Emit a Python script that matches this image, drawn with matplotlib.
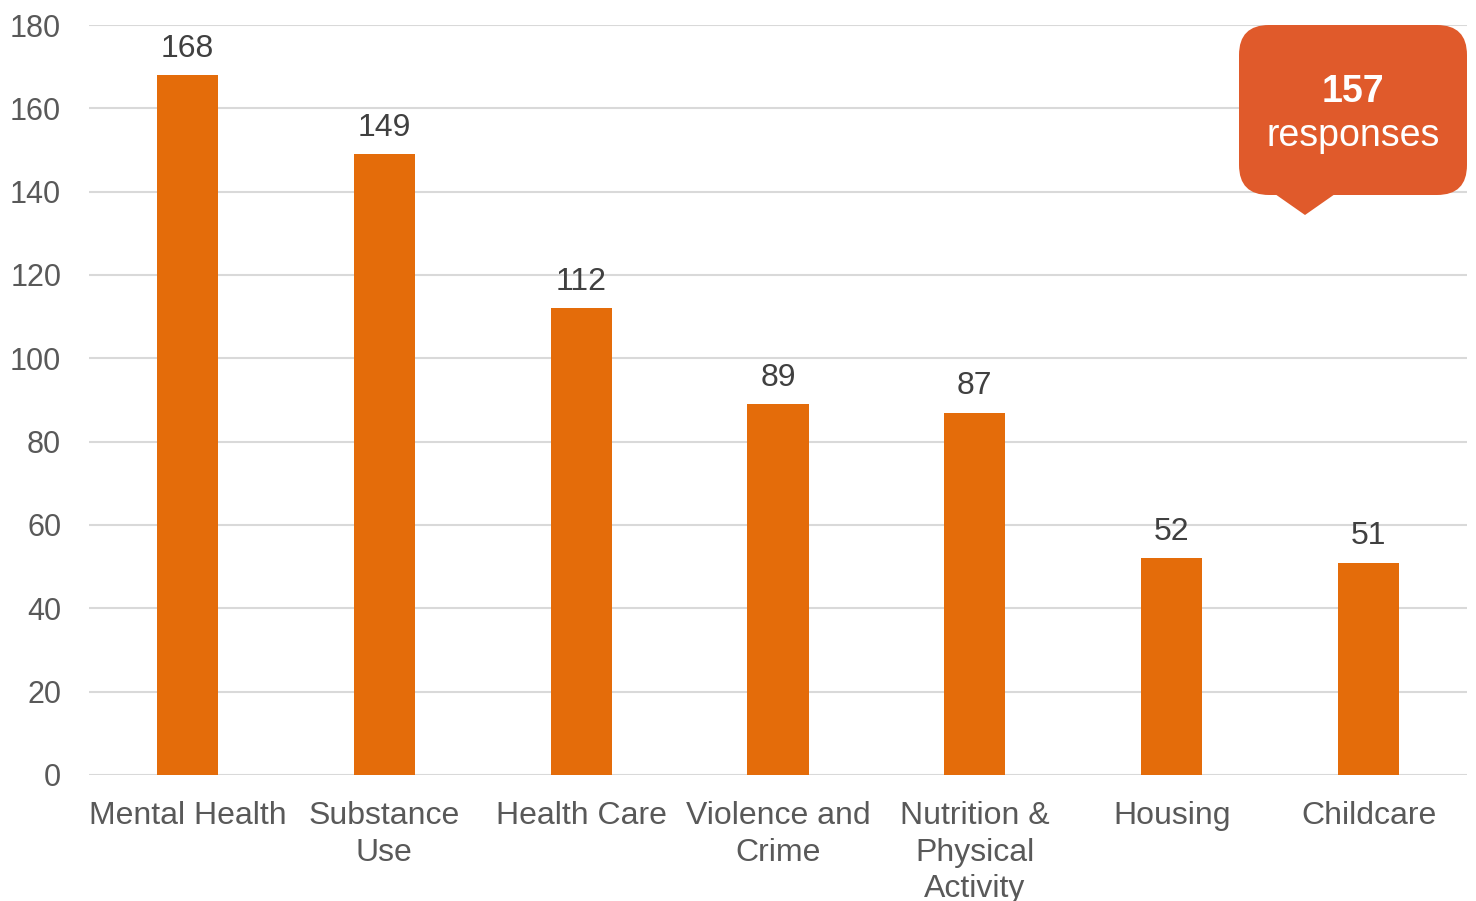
import matplotlib.pyplot as plt
from matplotlib.patches import FancyBboxPatch, Polygon

categories = ['Mental Health', 'Substance\nUse', 'Health Care', 'Violence and\nCrime',
              'Nutrition &\nPhysical\nActivity', 'Housing', 'Childcare']
counts = [168, 149, 112, 89, 87, 52, 51]
yticks = [0, 20, 40, 60, 80, 100, 120, 140, 160, 180]
total_responses = 157

bar_color = '#E46C0A'
callout_color = '#E05A2B'
text_color = '#595959'
grid_color = '#D9D9D9'

plt.rcParams['font.family'] = ['Liberation Sans', 'DejaVu Sans']

fig = plt.figure(figsize=(14.76, 9.01), dpi=100)
ax = fig.add_axes([89 / 1476, 126 / 901, 1378 / 1476, 750 / 901])

x = list(range(len(categories)))
bars = ax.bar(x, counts, width=0.31, color=bar_color, zorder=3)

for xi, v in zip(x, counts):
    ax.annotate(str(v), (xi, v), xytext=(0, 8), textcoords='offset points',
                ha='center', va='bottom', fontsize=23, color='#404040')

ax.set_xlim(-0.5, len(categories) - 0.5)
ax.set_ylim(0, 180)
ax.set_yticks(yticks)
ax.set_xticks(x)
ax.set_xticklabels(categories, fontsize=23, color=text_color, linespacing=1.3)
ax.tick_params(axis='y', labelsize=22, labelcolor=text_color, length=0, pad=20)
ax.tick_params(axis='x', length=0, pad=18.5)
ax.grid(axis='y', color=grid_color, linewidth=1.5, zorder=0)
for s in ax.spines.values():
    s.set_visible(False)

# callout bubble in the top-right corner (inch coordinates)
H = 9.01
box = FancyBboxPatch((12.39 + 0.3, H - 1.95 + 0.3), 2.28 - 0.6, 1.70 - 0.6,
                     boxstyle='round,pad=0.3', transform=fig.dpi_scale_trans,
                     facecolor=callout_color, edgecolor='none', zorder=5)
fig.add_artist(box)
tail = Polygon([(12.75, H - 1.94), (13.35, H - 1.94), (13.05, H - 2.15)],
               closed=True, transform=fig.dpi_scale_trans,
               facecolor=callout_color, edgecolor='none', zorder=5)
fig.add_artist(tail)
fig.text(13.53, H - 0.92, str(total_responses), transform=fig.dpi_scale_trans,
         ha='center', va='center', fontsize=27, fontweight='bold', color='white', zorder=6)
fig.text(13.53, H - 1.36, 'responses', transform=fig.dpi_scale_trans,
         ha='center', va='center', fontsize=27, color='white', zorder=6)

fig.savefig('out.png', dpi=100)
